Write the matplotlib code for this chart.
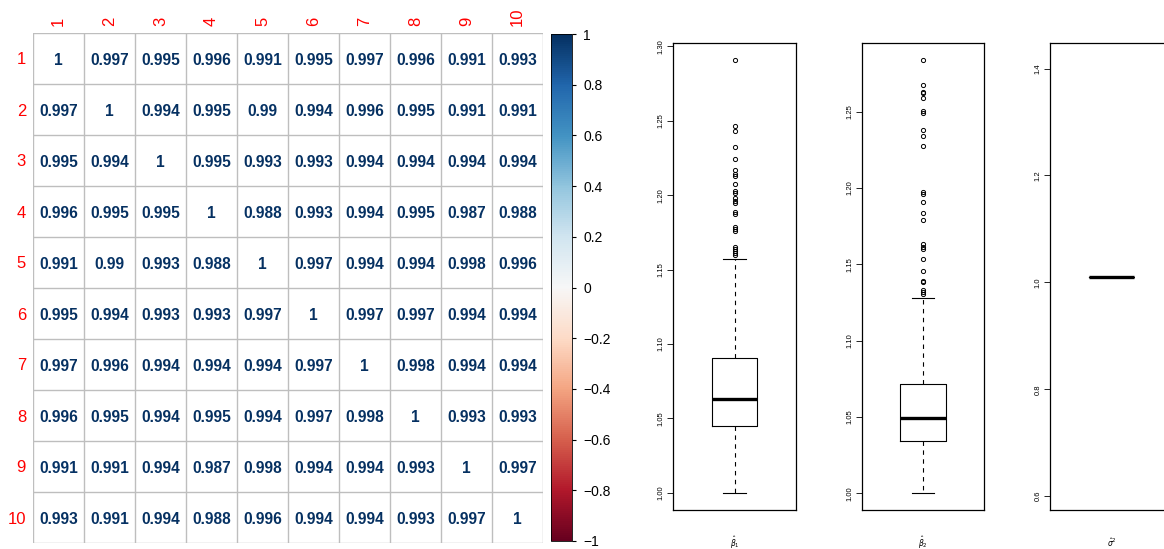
import matplotlib
matplotlib.use("Agg")
import matplotlib.pyplot as plt
import numpy as np
from matplotlib import cm, colors
from matplotlib.ticker import FormatStrFormatter

plt.rcParams["font.family"] = ["Liberation Sans", "DejaVu Sans"]

# ---- correlation matrix (values as printed in the cells) -------------------
labels = [str(i) for i in range(1, 11)]
corr = np.array([
    [1, .997, .995, .996, .991, .995, .997, .996, .991, .993],
    [.997, 1, .994, .995, .990, .994, .996, .995, .991, .991],
    [.995, .994, 1, .995, .993, .993, .994, .994, .994, .994],
    [.996, .995, .995, 1, .988, .993, .994, .995, .987, .988],
    [.991, .990, .993, .988, 1, .997, .994, .994, .998, .996],
    [.995, .994, .993, .993, .997, 1, .997, .997, .994, .994],
    [.997, .996, .994, .994, .994, .997, 1, .998, .994, .994],
    [.996, .995, .994, .995, .994, .997, .998, 1, .993, .993],
    [.991, .991, .994, .987, .998, .994, .994, .993, 1, .997],
    [.993, .991, .994, .988, .996, .994, .994, .993, .997, 1],
])
cbar_ticks = [-1, -0.8, -0.6, -0.4, -0.2, 0, 0.2, 0.4, 0.6, 0.8, 1]

# ---- boxplot summaries ------------------------------------------------------
beta1_box = dict(q1=1.0447, med=1.0631, q3=1.0906, whislo=1.0000, whishi=1.1573)
beta1_out = [1.2907, 1.2463, 1.2434, 1.2322, 1.2244, 1.2172, 1.2145, 1.2131,
             1.2078, 1.2031, 1.2017, 1.1984, 1.1963, 1.1950, 1.1889, 1.1876,
             1.1788, 1.1775, 1.1761, 1.1654, 1.1640, 1.1627, 1.1614, 1.1600]
beta2_box = dict(q1=1.0346, med=1.0491, q3=1.0720, whislo=1.0005, whishi=1.1283)
beta2_out = [1.2837, 1.2673, 1.2630, 1.2623, 1.2590, 1.2507, 1.2492, 1.2382,
             1.2338, 1.2275, 1.1973, 1.1960, 1.1911, 1.1835, 1.1791, 1.1631,
             1.1616, 1.1601, 1.1535, 1.1458, 1.1390, 1.1382, 1.1331, 1.1318,
             1.1305]
sigma_val = 1.011
box_labels = [r"$\hat{\beta}_1$", r"$\hat{\beta}_2$", r"$\hat{\sigma}^2$"]

W, H = 1164, 549
fig = plt.figure(figsize=(W / 100, H / 100), dpi=100)


def px_axes(x0, y0, x1, y1):
    return fig.add_axes([x0 / W, 1 - y1 / H, (x1 - x0) / W, (y1 - y0) / H])


cmap = plt.get_cmap("RdBu")
norm = colors.Normalize(-1, 1)

# ---- corrplot ---------------------------------------------------------------
ax = px_axes(33, 33, 543, 543)
n = len(labels)
ax.set_xlim(0.5, n + 0.5)
ax.set_ylim(n + 0.5, 0.5)
for k in np.arange(0.5, n + 1):
    ax.axhline(k, color="#BEBEBE", lw=1)
    ax.axvline(k, color="#BEBEBE", lw=1)
for i in range(n):
    for j in range(n):
        v = corr[i, j]
        s = f"{v:.3f}".rstrip("0").rstrip(".")
        ax.text(j + 1, i + 1.03, s, ha="center", va="center", fontsize=11.2,
                fontweight="bold", color=cmap(norm(v)))
ax.set_xticks(range(1, n + 1))
ax.set_yticks(range(1, n + 1))
ax.set_xticklabels(labels, rotation=90, color="red", fontsize=12)
ax.set_yticklabels(labels, color="red", fontsize=12)
ax.xaxis.tick_top()
ax.tick_params(length=0, pad=5)
for sp in ax.spines.values():
    sp.set_visible(False)

cax = px_axes(551, 34, 572, 541)
sm = cm.ScalarMappable(norm=norm, cmap=cmap)
cb = fig.colorbar(sm, cax=cax, ticks=cbar_ticks)
cb.ax.set_yticklabels([f"{t:g}".replace("-", "\u2212") for t in cbar_ticks])
cb.ax.tick_params(labelsize=10, length=3, width=0.8, pad=5)
cb.outline.set_linewidth(0.6)


# ---- boxplots (R style) -----------------------------------------------------
def r_ylim(lo, hi):
    if hi == lo:
        lo, hi = lo * 0.6, hi * 1.4
    r = hi - lo
    return lo - 0.04 * r, hi + 0.04 * r


def rbox(x0, x1, stats, fliers, yticks, fmt, label):
    bax = px_axes(x0, 43, x1, 510)
    st = dict(stats, fliers=fliers)
    bax.bxp([st], positions=[1], widths=0.4, capwidths=0.2,
            boxprops=dict(color="black", lw=0.8),
            medianprops=dict(color="black", lw=2.4, solid_capstyle="butt"),
            whiskerprops=dict(color="black", lw=0.8, linestyle=(0, (4, 4))),
            capprops=dict(color="black", lw=0.8),
            flierprops=dict(marker="o", markersize=3, mfc="none",
                            mec="black", mew=0.7))
    vals = [stats["whislo"], stats["whishi"]] + list(fliers)
    bax.set_ylim(*r_ylim(min(vals), max(vals)))
    bax.set_xlim(0.46, 1.54)
    bax.set_xticks([])
    bax.set_yticks(yticks)
    bax.yaxis.set_major_formatter(FormatStrFormatter(fmt))
    bax.tick_params(axis="y", labelsize=5.5, length=4, width=0.6, pad=2)
    for t in bax.get_yticklabels():
        t.set_rotation(90)
        t.set_va("center")
    for sp in bax.spines.values():
        sp.set_linewidth(0.9)
    bax.text(0.5, -0.07, label, transform=bax.transAxes, ha="center",
             va="center", fontsize=5.5)
    return bax


rbox(673, 796, beta1_box, beta1_out,
     [1.00, 1.05, 1.10, 1.15, 1.20, 1.25, 1.30], "%.2f", box_labels[0])
rbox(862, 984, beta2_box, beta2_out,
     [1.00, 1.05, 1.10, 1.15, 1.20, 1.25], "%.2f", box_labels[1])
sig = dict(q1=sigma_val, med=sigma_val, q3=sigma_val,
           whislo=sigma_val, whishi=sigma_val)
rbox(1050, 1173, sig, [], [0.6, 0.8, 1.0, 1.2, 1.4], "%.1f", box_labels[2])

fig.savefig("out.png", dpi=100)
